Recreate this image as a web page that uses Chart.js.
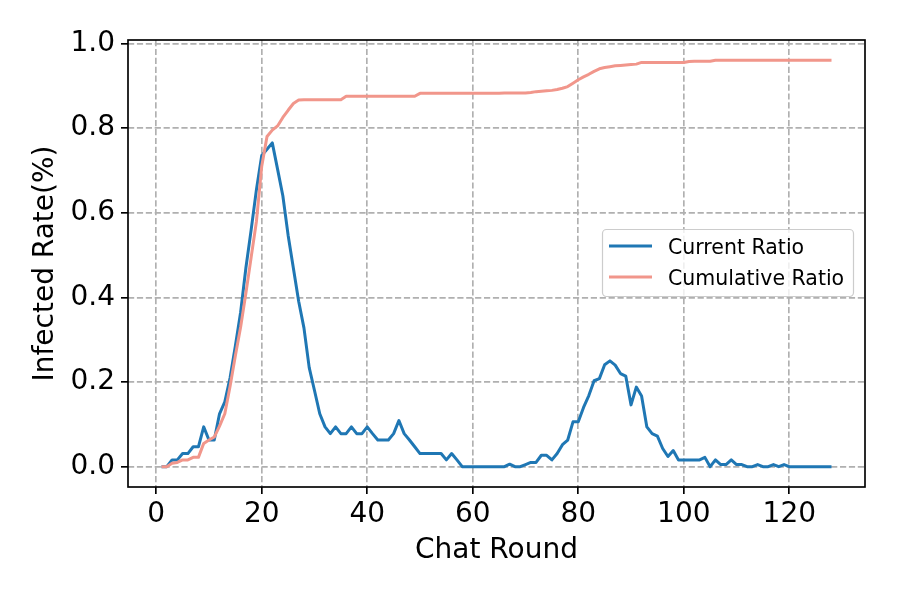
<!DOCTYPE html>
<html><head><meta charset="utf-8">
<script src="https://cdn.jsdelivr.net/npm/chart.js@4.4.0/dist/chart.umd.min.js"></script>
<style>html,body{margin:0;padding:0;background:#fff;}#wrap{width:897px;height:598px;}</style>
</head><body><div id="wrap"><canvas id="c" width="897" height="598"></canvas></div>
<script>
const rounds = Array.from({length:128},(_,i)=>i+1);
const currentRatio = [
 0,0,0.016,0.016,0.031,0.031,0.047,0.047,0.094,0.063,
 0.063,0.125,0.153,0.21,0.285,0.365,0.47,0.56,0.655,0.735,
 0.75,0.765,0.703,0.64,0.547,0.469,0.391,0.328,0.234,0.18,
 0.125,0.094,0.078,0.094,0.078,0.078,0.094,0.078,0.078,0.094,
 0.078,0.063,0.063,0.063,0.078,0.109,0.078,0.063,0.047,0.031,
 0.031,0.031,0.031,0.031,0.016,0.031,0.016,0,0,0,
 0,0,0,0,0,0,0.006,0,0,0.005,
 0.01,0.01,0.027,0.027,0.016,0.031,0.052,0.063,0.106,0.106,
 0.14,0.168,0.203,0.208,0.241,0.25,0.24,0.22,0.214,0.146,
 0.188,0.167,0.094,0.078,0.072,0.043,0.024,0.038,0.016,0.016,
 0.016,0.016,0.016,0.022,0,0.016,0.005,0.005,0.016,0.005,
 0.005,0,0,0.005,0,0,0.005,0,0.005,0,
 0,0,0,0,0,0,0,0
];
const cumulativeRatio = [
 0,0,0.008,0.01,0.016,0.016,0.022,0.022,0.055,0.063,
 0.07,0.096,0.125,0.19,0.262,0.33,0.41,0.495,0.58,0.71,
 0.78,0.795,0.805,0.825,0.842,0.858,0.866,0.867,0.867,0.867,
 0.867,0.867,0.867,0.867,0.867,0.875,0.875,0.875,0.875,0.875,
 0.875,0.875,0.875,0.875,0.875,0.875,0.875,0.875,0.875,0.882,
 0.882,0.882,0.882,0.882,0.882,0.882,0.882,0.882,0.882,0.882,
 0.882,0.882,0.882,0.882,0.882,0.883,0.883,0.883,0.883,0.883,
 0.884,0.886,0.887,0.888,0.889,0.891,0.894,0.898,0.906,0.914,
 0.921,0.927,0.934,0.940,0.943,0.945,0.947,0.948,0.949,0.950,
 0.951,0.955,0.955,0.955,0.955,0.955,0.955,0.955,0.955,0.955,
 0.957,0.958,0.958,0.958,0.958,0.96,0.96,0.96,0.96,0.96,
 0.96,0.96,0.96,0.96,0.96,0.96,0.96,0.96,0.96,0.96,
 0.96,0.96,0.96,0.96,0.96,0.96,0.96,0.96
];
const xTicks = [0,20,40,60,80,100,120];
const yTicks = [0,0.2,0.4,0.6,0.8,1.0];
const yTickLabels = ['0.0','0.2','0.4','0.6','0.8','1.0'];
const seriesNames = ['Current Ratio','Cumulative Ratio'];
const seriesColors = ['#1f77b4','#f1968b'];
const xTitle = 'Chat Round';
const yTitle = 'Infected Rate(%)';

const FONT = "'DejaVu Sans', sans-serif";

const frameAndLegend = {
  id: 'frameAndLegend',
  afterDraw(chart) {
    const {ctx, chartArea: a} = chart;
    ctx.save();
    ctx.strokeStyle = '#000';
    ctx.lineWidth = 1.67;
    ctx.setLineDash([]);
    ctx.strokeRect(a.left, a.top, a.right - a.left, a.bottom - a.top);
    const bx = a.right - 263, by = a.top + 189, bw = 251, bh = 67;
    ctx.beginPath();
    ctx.roundRect(bx + 0.5, by + 0.5, bw, bh, 4);
    ctx.fillStyle = 'rgba(255,255,255,0.8)';
    ctx.fill();
    ctx.strokeStyle = '#cccccc';
    ctx.lineWidth = 1.2;
    ctx.stroke();
    ctx.font = '20.5px ' + FONT;
    ctx.textAlign = 'left';
    ctx.textBaseline = 'alphabetic';
    chart.data.datasets.forEach((ds, i) => {
      const cy = by + 17 + i * 31;
      ctx.beginPath();
      ctx.strokeStyle = ds.borderColor;
      ctx.lineWidth = ds.borderWidth;
      ctx.moveTo(bx + 7, cy);
      ctx.lineTo(bx + 50, cy);
      ctx.stroke();
      ctx.fillStyle = '#000';
      ctx.fillText(ds.label, bx + 66, cy + 7.5);
    });
    ctx.restore();
  }
};

new Chart(document.getElementById('c'), {
  type: 'line',
  data: {
    datasets: [
      { label: seriesNames[0], data: rounds.map((r,i)=>({x:r, y:currentRatio[i]})),
        borderColor: seriesColors[0], backgroundColor: seriesColors[0], borderWidth: 3,
        pointRadius: 0, tension: 0, order: 1, borderJoinStyle: 'round', borderCapStyle: 'butt' },
      { label: seriesNames[1], data: rounds.map((r,i)=>({x:r, y:cumulativeRatio[i]})),
        borderColor: seriesColors[1], backgroundColor: seriesColors[1], borderWidth: 3,
        pointRadius: 0, tension: 0, order: 0, borderJoinStyle: 'round', borderCapStyle: 'butt' }
    ]
  },
  options: {
    responsive: false, animation: false, devicePixelRatio: 1,
    layout: { padding: { top: 40, right: 32, left: 0, bottom: 0 } },
    plugins: { legend: { display: false }, tooltip: { enabled: false } },
    scales: {
      x: {
        type: 'linear', min: -5.35, max: 134.35,
        afterBuildTicks: s => { s.ticks = xTicks.map(v => ({value: v})); },
        afterFit: s => { s.height = 111; },
        grid: { color: '#b0b0b0', lineWidth: 1.67, tickColor: '#000', tickLength: 7, tickWidth: 1.67, tickBorderDash: [] },
        border: { display: false, dash: [6.2, 2.7] },
        ticks: { color: '#000', font: { family: FONT, size: 28 }, padding: 4, maxRotation: 0, autoSkip: false,
                 callback: v => String(v) },
        title: { display: true, text: xTitle, color: '#000', font: { family: FONT, size: 28 }, padding: { top: 0, bottom: 30 } }
      },
      y: {
        type: 'linear', min: -0.048, max: 1.008,
        afterBuildTicks: s => { s.ticks = yTicks.map(v => ({value: v})); },
        afterFit: s => { s.width = 128; },
        grid: { color: '#b0b0b0', lineWidth: 1.67, tickColor: '#000', tickLength: 7, tickWidth: 1.67, tickBorderDash: [] },
        border: { display: false, dash: [6.2, 2.7] },
        ticks: { color: '#000', font: { family: FONT, size: 28 }, padding: 6,
                 callback: v => { const k = yTicks.findIndex(t => Math.abs(t - v) < 1e-9); return k >= 0 ? yTickLabels[k] : ''; } },
        title: { display: true, text: yTitle, color: '#000', font: { family: FONT, size: 28 }, padding: { top: 29, bottom: 0 } }
      }
    }
  },
  plugins: [frameAndLegend]
});
</script>
</body></html>
